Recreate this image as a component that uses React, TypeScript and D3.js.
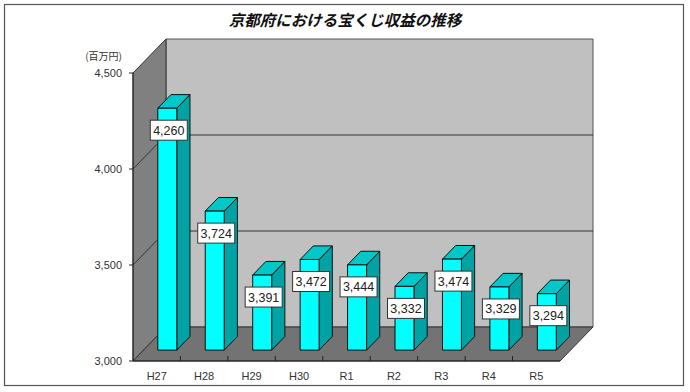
import React from 'react';
import * as d3 from 'd3';

const categories = ['H27', 'H28', 'H29', 'H30', 'R1', 'R2', 'R3', 'R4', 'R5'];
const revenues = [4260, 3724, 3391, 3472, 3444, 3332, 3474, 3329, 3294];
const yTicks = [3000, 3500, 4000, 4500];

const W = 690;
const H = 392;

// front plane of the 3D box and the depth offset
const left = 133;
const right = 560;
const bottom = 361;
const top = 73;
const depthX = 33;
const depthY = 34;
// bar position inside the depth (0 = front, 1 = back)
const zFront = 0.32;
const zBack = 0.72;

const path = (pts: [number, number][]) =>
    'M' + pts.map(p => `${p[0]},${p[1]}`).join('L') + 'Z';

const fmt = d3.format(',');

export default function App() {
    const x = d3.scaleBand<string>().domain(categories).range([left, right]).padding(0);
    const y = d3.scaleLinear().domain([3000, 4500]).range([bottom, top]);
    const step = x.step();
    const barW = step * 0.4;

    const back = (px: number, py: number): [number, number] => [px + depthX, py - depthY];

    const fx = zFront * depthX;
    const fy = zFront * depthY;
    const dz = zBack - zFront;

    return (
        <svg width={W} height={H} style={{ position: 'absolute', left: 0, top: 0, background: '#fff' }}
            fontFamily="'Liberation Sans', Arial, sans-serif">
            <rect x={4.5} y={4.5} width={679} height={381} fill="#fff" stroke="#555" strokeWidth={1.2} />

            <text x={345} y={26} textAnchor="middle" fontSize={15.5} fontWeight="bold" fontStyle="italic"
                fontFamily="'Noto Sans CJK JP', sans-serif" fill="#111">京都府における宝くじ収益の推移</text>

            {/* back wall */}
            <path d={path([back(left, top), back(right, top), back(right, bottom), back(left, bottom)])}
                fill="#c0c0c0" stroke="#555" strokeWidth={1} />
            {/* left wall */}
            <path d={path([[left, top], back(left, top), back(left, bottom), [left, bottom]])}
                fill="#808080" stroke="#333" strokeWidth={1} />
            {/* floor */}
            <path d={path([[left, bottom], back(left, bottom), back(right, bottom), [right, bottom]])}
                fill="#737373" stroke="#333" strokeWidth={1} />

            {/* gridlines */}
            {yTicks.slice(1, -1).map(t => (
                <g key={t} stroke="#333" strokeWidth={1}>
                    <line x1={left} y1={y(t)} x2={left + depthX} y2={y(t) - depthY} />
                    <line x1={left + depthX} y1={y(t) - depthY} x2={right + depthX} y2={y(t) - depthY} />
                </g>
            ))}

            {/* y axis */}
            <line x1={left} y1={top} x2={left} y2={bottom} stroke="#222" />
            {yTicks.map(t => (
                <g key={t}>
                    <line x1={left - 4} y1={y(t)} x2={left} y2={y(t)} stroke="#222" />
                    <text x={122} y={y(t) + 4} textAnchor="end" fontSize={11} fill="#333">{fmt(t)}</text>
                </g>
            ))}
            <text x={122} y={60} textAnchor="end" fontSize={10} fill="#333"
                fontFamily="'Noto Sans CJK JP', sans-serif">(百万円)</text>

            {/* x axis */}
            <line x1={left} y1={bottom} x2={right} y2={bottom} stroke="#222" />
            {categories.map((c, i) => (
                <g key={c}>
                    {i > 0 && <line x1={x(c)!} y1={bottom - 5} x2={x(c)!} y2={bottom} stroke="#222" />}
                    <text x={x(c)! + step / 2} y={380} textAnchor="middle" fontSize={11} fill="#333">{c}</text>
                </g>
            ))}

            {/* bars */}
            {categories.map((c, i) => {
                const x0 = x(c)! + (step - barW) / 2 + fx;
                const x1 = x0 + barW;
                const yT = y(revenues[i]) - fy;
                const yB = y(3000) - fy;
                const ox = dz * depthX;
                const oy = dz * depthY;
                return (
                    <g key={c} stroke="#111" strokeWidth={1} strokeLinejoin="round">
                        <path d={path([[x1, yT], [x1 + ox, yT - oy], [x1 + ox, yB - oy], [x1, yB]])} fill="#00a3a3" />
                        <path d={path([[x0, yT], [x1, yT], [x1 + ox, yT - oy], [x0 + ox, yT - oy]])} fill="#00c8c8" />
                        <rect x={x0} y={yT} width={barW} height={yB - yT} fill="#00ffff" />
                    </g>
                );
            })}

            {/* value labels */}
            {categories.map((c, i) => {
                const cx = x(c)! + step / 2 + fx + 1.5;
                const cy = y(revenues[i]) - fy + 22;
                return (
                    <g key={c}>
                        <rect x={cx - 18.5} y={cy - 10} width={37} height={20} fill="#fff" stroke="#333" strokeWidth={1} />
                        <text x={cx} y={cy + 4.5} textAnchor="middle" fontSize={12.5} fill="#222">{fmt(revenues[i])}</text>
                    </g>
                );
            })}
        </svg>
    );
}
